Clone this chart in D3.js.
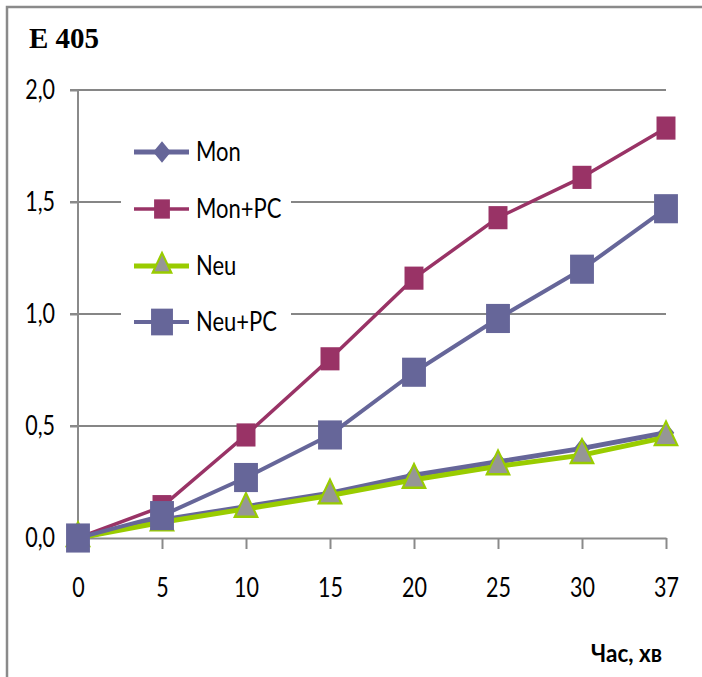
<!DOCTYPE html>
<html><head><meta charset="utf-8">
<script src="https://cdn.jsdelivr.net/npm/d3@7"></script>
<style>body{margin:0;background:#fff}svg{display:block}</style>
</head><body>
<svg id="c" width="702" height="677"></svg>
<script>
const categories = ["0","5","10","15","20","25","30","37"];
const yTicks = [0, 0.5, 1.0, 1.5, 2.0];
const monValues   = [0, 0.08, 0.14, 0.20, 0.28, 0.34, 0.40, 0.47];
const monPcValues = [0, 0.14, 0.46, 0.80, 1.16, 1.43, 1.61, 1.83];
const neuValues   = [0, 0.07, 0.13, 0.19, 0.26, 0.32, 0.37, 0.45];
const neuPcValues = [0, 0.10, 0.27, 0.46, 0.74, 0.98, 1.20, 1.47];
const seriesNames = ["Mon","Mon+PC","Neu","Neu+PC"];
const titleText = "E 405";
const xTitle = "Час, хв";

const series = [
  {name: seriesNames[0], values: monValues,   line:"#666699", fill:"#666699", stroke:"#666699", sym:d3.symbolDiamond2, size:175, lw:5},
  {name: seriesNames[1], values: monPcValues, line:"#993366", fill:"#993366", stroke:"#993366", sym:d3.symbolSquare, size:360, lw:3.5},
  {name: seriesNames[2], values: neuValues,   line:"#99CC00", fill:"#969696", stroke:"#99CC00", sym:d3.symbolTriangle, size:220, lw:5},
  {name: seriesNames[3], values: neuPcValues, line:"#666699", fill:"#666699", stroke:"#666699", sym:d3.symbolSquare, size:570, lw:4}
];

const svg = d3.select("#c");
const SY = 1.22;
const FONT = "Lato, 'Open Sans', sans-serif";

// outer frame
svg.append("path").attr("d","M7,710 L7,7 L710,7").attr("fill","none").attr("stroke","#8a8a8a").attr("stroke-width",2.5);

svg.append("text").attr("x",29).attr("y",48).text(titleText)
  .attr("font-family","'Liberation Serif', serif").attr("font-weight","bold").attr("font-size",29).attr("fill","#000");

const x = d3.scalePoint().domain(categories).range([78,666]).padding(0);
const y = d3.scaleLinear().domain([0,2]).range([538,90]);

// gridlines
svg.append("g").selectAll("line").data(yTicks.filter(d=>d>0)).join("line")
  .attr("x1",70).attr("x2",666).attr("y1",d=>y(d)).attr("y2",d=>y(d))
  .attr("stroke","#868686").attr("stroke-width",2);

// y axis
const yAxis = svg.append("g").attr("transform","translate(78,0)")
  .call(d3.axisLeft(y).tickValues(yTicks).tickSize(8).tickFormat(d=>d3.format(".1f")(d).replace(".",",")));
yAxis.select(".domain").attr("stroke","#8a8a8a").attr("stroke-width",2).attr("d","M0,90V549");
yAxis.selectAll(".tick line").attr("stroke","#8a8a8a").attr("stroke-width",2);
yAxis.selectAll(".tick text").attr("x",-23).attr("dy",null).attr("y",0)
  .attr("font-family",FONT).attr("font-size",21.5).attr("fill","#000")
  .attr("transform",`translate(0,8) scale(1,${SY})`);

// x axis
const xAxis = svg.append("g").attr("transform","translate(0,538)")
  .call(d3.axisBottom(x).tickSize(11).tickSizeOuter(0));
xAxis.select(".domain").attr("stroke","#8a8a8a").attr("stroke-width",2);
xAxis.selectAll(".tick line").attr("stroke","#8a8a8a").attr("stroke-width",2);
xAxis.selectAll(".tick text").attr("y",0).attr("dy",null)
  .attr("font-family",FONT).attr("font-size",21.5).attr("fill","#000")
  .attr("transform",`translate(0,59) scale(1,${SY})`);

// x title
svg.append("text").attr("text-anchor","end")
  .attr("transform",`translate(662,662) scale(1,1.12)`)
  .attr("font-family",FONT).attr("font-weight","bold").attr("font-size",22.5).attr("fill","#000")
  .text(xTitle);

// series
const lineGen = d3.line().x((d,i)=>x(categories[i])).y(d=>y(d));
series.forEach(s=>{
  const g = svg.append("g");
  g.append("path").attr("d",lineGen(s.values)).attr("fill","none")
    .attr("stroke",s.line).attr("stroke-width",s.lw).attr("stroke-linejoin","round");
  g.selectAll("path.m").data(s.values).join("path").attr("class","m")
    .attr("d",d3.symbol().type(s.sym).size(s.size))
    .attr("transform",(d,i)=>`translate(${x(categories[i])},${y(d)}) scale(1,1.22)`)
    .attr("fill",s.fill).attr("stroke",s.stroke).attr("stroke-width",s.sym===d3.symbolTriangle?2:0);
});

// legend
const leg = svg.append("g");
leg.append("rect").attr("x",121).attr("y",125).attr("width",170).attr("height",222).attr("fill","#fff");
const legY = [152, 209, 266, 322];
const legSize = [200, 250, 150, 480];
series.forEach((s,i)=>{
  const yy = legY[i];
  leg.append("line").attr("x1",134).attr("x2",189).attr("y1",yy).attr("y2",yy)
    .attr("stroke",s.line).attr("stroke-width",s.lw);
  leg.append("path").attr("d",d3.symbol().type(s.sym).size(legSize[i]))
    .attr("transform",`translate(162,${yy}) scale(1,1.22)`)
    .attr("fill",s.fill).attr("stroke",s.stroke).attr("stroke-width",s.sym===d3.symbolTriangle?2:0);
  leg.append("text").attr("transform",`translate(196,${yy+9}) scale(1,${SY})`)
    .attr("font-family",FONT).attr("font-size",22).attr("fill","#000").text(s.name);
});
</script>
</body></html>
